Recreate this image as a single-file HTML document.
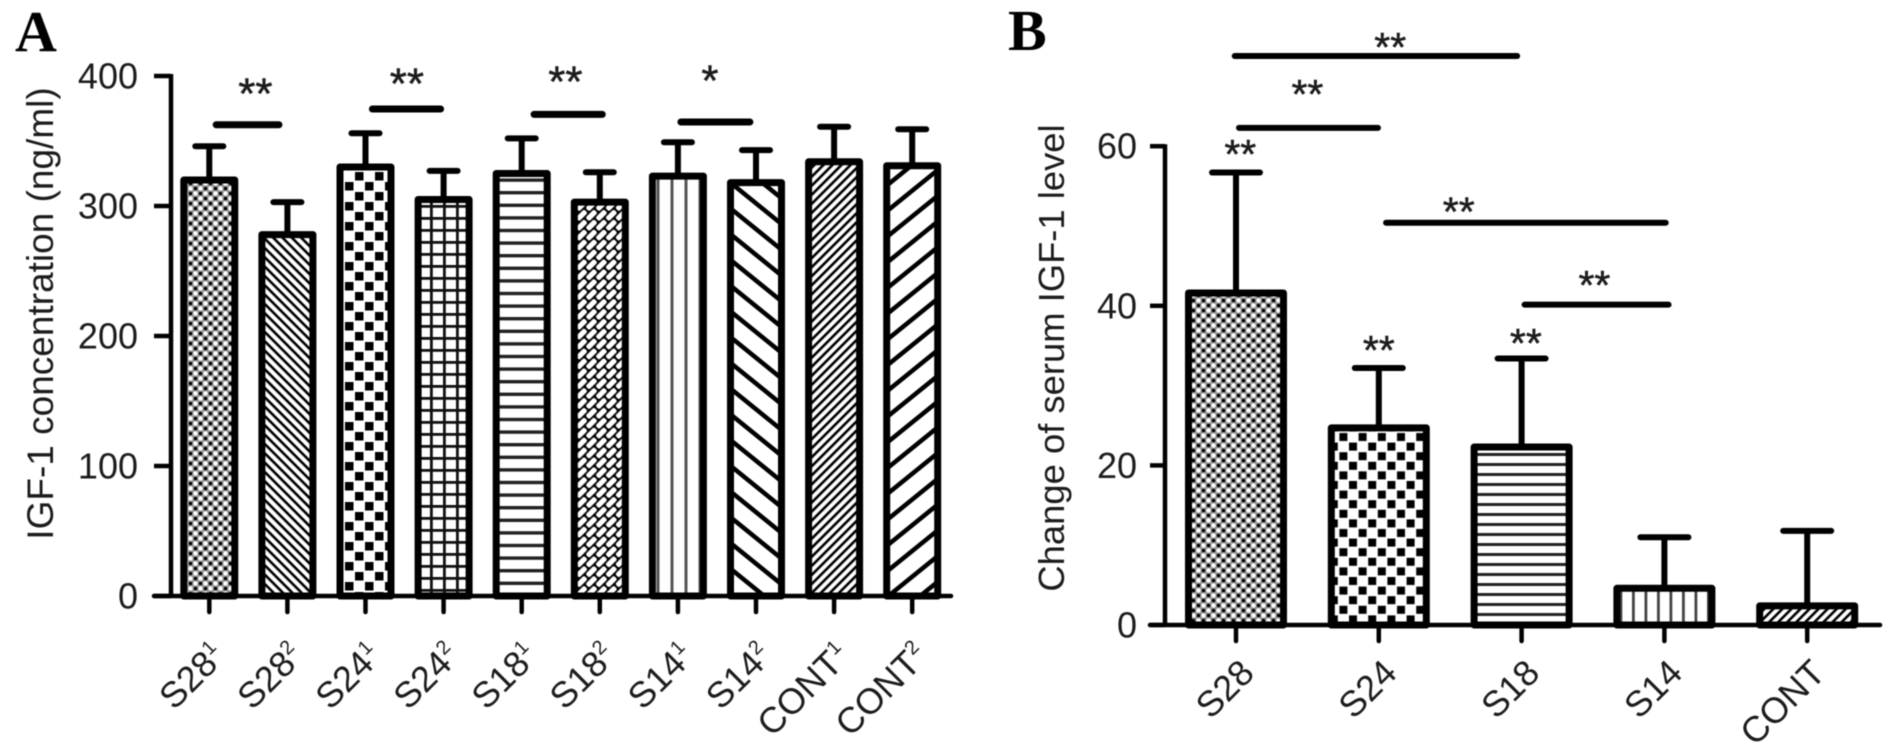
<!DOCTYPE html>
<html lang="en">
<head>
<meta charset="utf-8">
<title>IGF-1 concentration and change of serum IGF-1 level</title>
<style>
  html, body { margin: 0; padding: 0; background: #fff; }
  body { width: 1894px; height: 754px; overflow: hidden; }
  svg { display: block; filter: blur(0.6px); }
  text { font-family: "Liberation Sans", Arial, sans-serif; fill: #1c1c1c; }
</style>
</head>
<body>
<svg id="figure" xmlns="http://www.w3.org/2000/svg" width="1894" height="754" viewBox="0 0 1894 754">
  <defs>
    <pattern id="p-dots" patternUnits="userSpaceOnUse" width="10" height="10" x="3" y="1">
      <rect width="10" height="10" fill="#999"/>
      <circle cx="2.5" cy="2.5" r="2.2" fill="#fff"/>
      <circle cx="7.5" cy="7.5" r="2.2" fill="#fff"/>
      <circle cx="7.5" cy="2.5" r="1.8" fill="#000"/>
      <circle cx="2.5" cy="7.5" r="1.8" fill="#000"/>
    </pattern>
    <pattern id="p-diag-fine-down" patternUnits="userSpaceOnUse" width="6.6" height="6.6" patternTransform="rotate(45)">
      <rect width="6.6" height="6.6" fill="#fff"/>
      <rect width="6.6" height="2.6" fill="#000"/>
    </pattern>
    <pattern id="p-checker" patternUnits="userSpaceOnUse" width="20" height="20" x="5" y="2">
      <rect width="20" height="20" fill="#fff"/>
      <rect x="0" y="0" width="8.5" height="8.5" fill="#000"/>
      <rect x="10" y="10" width="8.5" height="8.5" fill="#000"/>
    </pattern>
    <pattern id="p-grid" patternUnits="userSpaceOnUse" width="13" height="12" x="1" y="1">
      <rect width="13" height="12" fill="#fff"/>
      <rect width="13" height="2.8" fill="#111"/>
      <rect width="2.8" height="12" fill="#111"/>
    </pattern>
    <pattern id="p-horizontal" patternUnits="userSpaceOnUse" width="10" height="12.6" y="2">
      <rect width="10" height="12.6" fill="#fff"/>
      <rect width="10" height="3.4" fill="#222"/>
    </pattern>
    <pattern id="p-brick" patternUnits="userSpaceOnUse" width="14" height="14" patternTransform="rotate(-45)">
      <rect width="14" height="14" fill="#000"/>
      <rect x="1" y="0.9" width="12" height="5.2" rx="2" fill="#fff"/>
      <rect x="8" y="7.9" width="12" height="5.2" rx="2" fill="#fff"/>
      <rect x="-6" y="7.9" width="12" height="5.2" rx="2" fill="#fff"/>
    </pattern>
    <pattern id="p-vertical" patternUnits="userSpaceOnUse" width="14" height="10" x="7">
      <rect width="14" height="10" fill="#fff"/>
      <rect x="5.5" width="3" height="10" fill="#555"/>
    </pattern>
    <pattern id="p-wide-down" patternUnits="userSpaceOnUse" width="20" height="20" patternTransform="rotate(39)">
      <rect width="20" height="20" fill="#fff"/>
      <rect width="20" height="4.5" fill="#000"/>
    </pattern>
    <pattern id="p-diag-fine-up" patternUnits="userSpaceOnUse" width="6.4" height="6.4" patternTransform="rotate(-45)">
      <rect width="6.4" height="6.4" fill="#fff"/>
      <rect width="6.4" height="2.6" fill="#000"/>
    </pattern>
    <pattern id="p-wide-up" patternUnits="userSpaceOnUse" width="20" height="20" patternTransform="rotate(-39)">
      <rect width="20" height="20" fill="#fff"/>
      <rect width="20" height="4.5" fill="#000"/>
    </pattern>
    <pattern id="p-dots-b" patternUnits="userSpaceOnUse" width="10" height="10" x="1" y="3">
      <rect width="10" height="10" fill="#999"/>
      <circle cx="2.5" cy="2.5" r="2.2" fill="#fff"/>
      <circle cx="7.5" cy="7.5" r="2.2" fill="#fff"/>
      <circle cx="7.5" cy="2.5" r="1.8" fill="#000"/>
      <circle cx="2.5" cy="7.5" r="1.8" fill="#000"/>
    </pattern>
    <pattern id="p-checker-b" patternUnits="userSpaceOnUse" width="19.2" height="19.2" x="5" y="1">
      <rect width="19.2" height="19.2" fill="#fff"/>
      <rect x="0" y="0" width="8" height="8" fill="#000"/>
      <rect x="9.6" y="9.6" width="8" height="8" fill="#000"/>
    </pattern>
    <pattern id="p-horizontal-b" patternUnits="userSpaceOnUse" width="10" height="10" y="3">
      <rect width="10" height="10" fill="#fff"/>
      <rect width="10" height="3" fill="#222"/>
    </pattern>
    <pattern id="p-vertical-b" patternUnits="userSpaceOnUse" width="12.5" height="10" x="2">
      <rect width="12.5" height="10" fill="#fff"/>
      <rect x="5" width="2.8" height="10" fill="#444"/>
    </pattern>
  </defs>
  <g id="panel-a"></g>
  <g id="panel-b"></g>
  <text x="15" y="51" style="font-family:'Liberation Serif',serif;font-weight:bold;font-size:58px;fill:#000">A</text>
  <text x="1008" y="50" style="font-family:'Liberation Serif',serif;font-weight:bold;font-size:58px;fill:#000">B</text>
  <text transform="translate(53 313.5) rotate(-90)" text-anchor="middle" font-size="37">IGF-1 concentration (ng/ml)</text>
  <text transform="translate(1064 358) rotate(-90)" text-anchor="middle" font-size="36.4">Change of serum IGF-1 level</text>
</svg>
<script>
// Panel A data
const catsA = ['S28', 'S28', 'S24', 'S24', 'S18', 'S18', 'S14', 'S14', 'CONT', 'CONT'];
const supsA = ['1', '2', '1', '2', '1', '2', '1', '2', '1', '2'];
const meansA = [320, 278, 330, 305, 325, 303, 323, 318, 334, 331];
const uppersA = [346, 303, 356, 327, 352, 326, 349, 343, 361, 359];
const fillsA = ['p-dots', 'p-diag-fine-down', 'p-checker', 'p-grid', 'p-horizontal', 'p-brick', 'p-vertical', 'p-wide-down', 'p-diag-fine-up', 'p-wide-up'];
const ticksA = [0, 100, 200, 300, 400];
const sigFromA = [0.05, 2.05, 4.12, 6.0];
const sigToA = [0.93, 3.0, 5.07, 6.96];
const sigLevelA = [362.5, 374.6, 370.5, 364.6];
const sigMarkA = ['**', '**', '**', '*'];
const sigMarkPosA = [0.59, 2.53, 4.56, 6.41];
const sigMarkLevelA = [391.5, 399.2, 400.8, 401.5];

// Panel B data
const catsB = ['S28', 'S24', 'S18', 'S14', 'CONT'];
const meansB = [41.6, 24.7, 22.3, 4.6, 2.4];
const uppersB = [56.7, 32.2, 33.4, 11, 11.8];
const fillsB = ['p-dots-b', 'p-checker-b', 'p-horizontal-b', 'p-vertical-b', 'p-diag-fine-up'];
const ticksB = [0, 20, 40, 60];
const sigFromB = [-0.03, 0, 1.03, 2.0];
const sigToB = [1.99, 1.015, 3.03, 3.05];
const sigLevelB = [71.3, 62.3, 50.4, 40.15];
const sigMarkPosB = [1.08, 0.5, 1.56, 2.51, 0.03, 1.0, 2.03];
const sigMarkLevelB = [73.2, 67.3, 52.6, 43.4, 59.8, 35.2, 36.1];

const NS = 'http://www.w3.org/2000/svg';
function xA(i) { return 209.3 + 78.1 * i; }
function yA(v) { return 596 - 1.3 * v; }
function xB(i) { return 1236 + 142.8 * i; }
function yB(v) { return 625 - 7.98 * v; }

function line(parent, x1, y1, x2, y2, w, cap) {
  const el = document.createElementNS(NS, 'line');
  el.setAttribute('x1', x1);
  el.setAttribute('y1', y1);
  el.setAttribute('x2', x2);
  el.setAttribute('y2', y2);
  el.setAttribute('stroke', '#000');
  el.setAttribute('stroke-width', w);
  el.setAttribute('stroke-linecap', cap || 'butt');
  parent.appendChild(el);
  return el;
}
function text(parent, x, y, str, size, anchor) {
  const el = document.createElementNS(NS, 'text');
  el.setAttribute('x', x);
  el.setAttribute('y', y);
  el.setAttribute('font-size', size);
  el.setAttribute('text-anchor', anchor);
  el.textContent = str;
  parent.appendChild(el);
  return el;
}

function drawPanel(cfg) {
  const g = document.getElementById(cfg.id);

  // bars and error bars
  cfg.means.forEach(function (m, i) {
    const cx = cfg.x(i);
    const stem = line(g, cx, cfg.y(cfg.uppers[i]), cx, cfg.y(m), 6);
    
    
    const cap = line(g, cx - cfg.capHalf, cfg.y(cfg.uppers[i]), cx + cfg.capHalf, cfg.y(cfg.uppers[i]), 6, 'round');
    
    
    const bar = document.createElementNS(NS, 'rect');
    bar.setAttribute('x', cx - cfg.barHalf);
    bar.setAttribute('y', cfg.y(m));
    bar.setAttribute('width', cfg.barHalf * 2);
    bar.setAttribute('height', cfg.y(0) - cfg.y(m));
    bar.setAttribute('fill', 'url(#' + cfg.fills[i] + ')');
    bar.setAttribute('stroke', '#000');
    bar.setAttribute('stroke-width', cfg.barStroke);
    bar.setAttribute('stroke-linejoin', 'round');
    
    
    g.appendChild(bar);
  });

  // axes
  const yAxis = line(g, cfg.axisX, cfg.y(cfg.ticks[cfg.ticks.length - 1]) - 2, cfg.axisX, cfg.y(0), 4.5);
  
  
  const xAxis = line(g, cfg.tickStart, cfg.y(0), cfg.axisEnd, cfg.y(0), 4.5, 'round');
  
  

  cfg.ticks.forEach(function (t) {
    const mark = line(g, cfg.tickStart, cfg.y(t), cfg.axisX, cfg.y(t), 4.5);
    
    
    const label = text(g, cfg.tickLabelX, cfg.y(t) + 12.5, String(t), 36, 'end');
    
    
  });

  cfg.cats.forEach(function (c, i) {
    const cx = cfg.x(i);
    const mark = line(g, cx, cfg.y(0), cx, cfg.y(0) + 16, 4.5, 'round');
    
    
    const ax = cx + cfg.labelDx;
    const ay = cfg.y(0) + cfg.labelDy;
    const label = text(g, ax, ay, c, 36, 'end');
    label.setAttribute('transform', 'rotate(-45 ' + ax + ' ' + ay + ')');
    
    
    if (cfg.sups) {
      const sup = document.createElementNS(NS, 'tspan');
      sup.setAttribute('font-size', '20');
      sup.setAttribute('dy', '-14');
      sup.textContent = cfg.sups[i];
      
      
      label.appendChild(sup);
    }
  });

  // significance lines
  cfg.sigFrom.forEach(function (f, i) {
    const r = line(g, cfg.x(f) + 3, cfg.y(cfg.sigLevel[i]), cfg.x(cfg.sigTo[i]) - 3, cfg.y(cfg.sigLevel[i]), cfg.sigWidth, 'round');
    
    
  });
  cfg.markPos.forEach(function (p, i) {
    const s = text(g, cfg.x(p), cfg.y(cfg.markLevel[i]) + cfg.markSize * 0.49, cfg.marks ? cfg.marks[i] : '**', cfg.markSize, 'middle');
    s.setAttribute('stroke', '#1c1c1c');
    s.setAttribute('stroke-width', '0.5');
    
    
  });
}

drawPanel({
  id: 'panel-a', x: xA, y: yA, cats: catsA, sups: supsA, means: meansA, uppers: uppersA,
  fills: fillsA, ticks: ticksA, sigFrom: sigFromA, sigTo: sigToA, sigLevel: sigLevelA,
  markPos: sigMarkPosA, markLevel: sigMarkLevelA, marks: sigMarkA,
  barHalf: 25.5, barStroke: 7, capHalf: 14, axisX: 171, tickStart: 154, axisEnd: 951,
  tickLabelX: 138, labelDx: 18, labelDy: 62, sigWidth: 7, markSize: 44
});
drawPanel({
  id: 'panel-b', x: xB, y: yB, cats: catsB, sups: null, means: meansB, uppers: uppersB,
  fills: fillsB, ticks: ticksB, sigFrom: sigFromB, sigTo: sigToB, sigLevel: sigLevelB,
  markPos: sigMarkPosB, markLevel: sigMarkLevelB, marks: null,
  barHalf: 47.5, barStroke: 7, capHalf: 24, axisX: 1165, tickStart: 1150, axisEnd: 1880,
  tickLabelX: 1137, labelDx: 20, labelDy: 50, sigWidth: 6, markSize: 41
});
</script>
</body>
</html>
